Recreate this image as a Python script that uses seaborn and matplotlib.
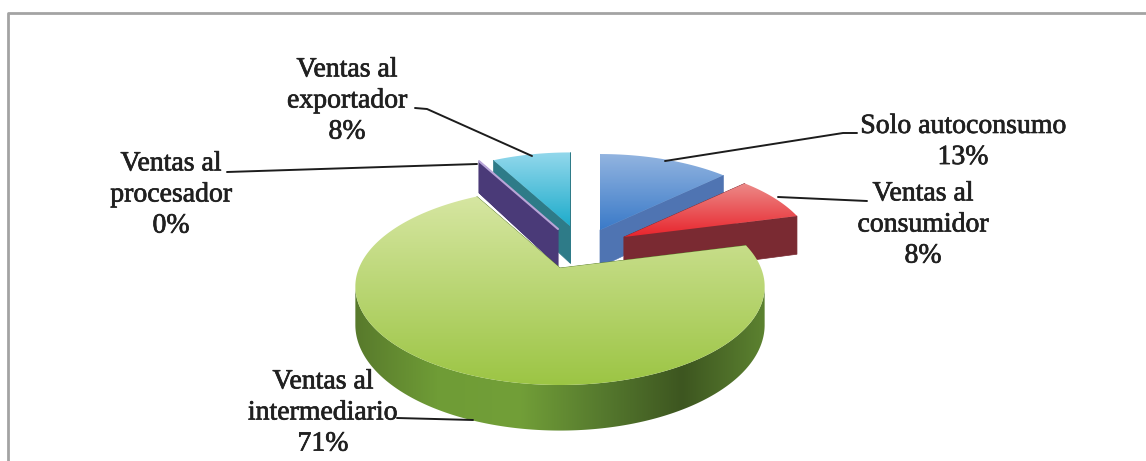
import numpy as np
import matplotlib
matplotlib.use("Agg")
import matplotlib.pyplot as plt
import matplotlib.patheffects as pe
from matplotlib.colors import to_rgb
from matplotlib.patches import Polygon
import seaborn as sns

# Shares of producers by sales channel (percent), clockwise from twelve o'clock
channels = ["Solo autoconsumo", "Ventas al\nconsumidor", "Ventas al\nintermediario",
            "Ventas al\nprocesador", "Ventas al\nexportador"]
shares = [13, 8, 71, 0, 8]

# Face gradients (far edge -> near edge) and wall colours (left -> right)
top_colors = [["#92b4e0", "#3a7ac8"], ["#ec8a88", "#e8242c"], ["#d6e6a2", "#9cc544"],
              ["#b9a6d8", "#b9a6d8"], ["#93d8ec", "#1eaccb"]]
wall_colors = [["#4f74b2", "#4a6ca6"], ["#7a2a32", "#72262e"],
               ["#587a2c", "#6f9c36", "#729f38", "#567a2e", "#3d5620", "#5c8230"],
               ["#4a3a78", "#4a3a78"], ["#2e7b88", "#2e7b88"]]

# Per-slice placement on the canvas: apex position, radius scale and wall height
apex_x = [600, 624, 560, 558, 570]
apex_y = [230, 237, 268, 229, 226]
scale = [0.95, 0.93, 1.0, 0.95, 0.92]
wall_height = [37, 40, 37, 37, 37]
draw_order = [0, 1, 4, 3, 2]

RADIUS, FORESHORTEN, PERSPECTIVE = 201, 95, 0.188

# Leader lines and label anchors
label_xy = [(963, 142), (923, 225), (323, 413), (171, 195), (347, 101)]
leaders = [[(665, 161), (843, 133), (857, 133)],
           [(778, 197), (867, 201)],
           [(397, 418), (473, 420)],
           [(227, 172), (477, 164)],
           [(415, 108), (427, 109), (532, 156)]]

sns.set_theme(style="white")
plt.rcParams["font.family"] = ["Liberation Serif", "DejaVu Serif"]

fig, ax = plt.subplots(figsize=(11.46, 4.61), dpi=100)
ax.set_position([0, 0, 1, 1])
ax.axis("off")

# Chart frame, only the top and left sides are in view
ax.plot([8, 8, 1146], [461, 13, 13], color="#a3a3a3", lw=2, zorder=1)


def project(theta, ax0, ay0, k, height):
    """Project a rim angle (degrees clockwise from north) onto the canvas."""
    t = np.radians(theta)
    x, y = np.sin(t), np.cos(t)
    w = 1 + PERSPECTIVE * y
    return ax0 + k * RADIUS * x / w, ay0 - k * FORESHORTEN * y / w, height / w


def clipped_gradient(points, colors, vertical, zorder):
    """Fill a polygon with a colour ramp running down or across it."""
    pts = np.array(points)
    clip = Polygon(pts, closed=True, fc="none", ec="none", zorder=zorder)
    ax.add_patch(clip)
    ramp = np.array(sns.blend_palette(colors, 256))
    img = ramp[:, None, :] if vertical else ramp[None, :, :]
    extent = (pts[:, 0].min(), pts[:, 0].max(), pts[:, 1].max(), pts[:, 1].min())
    im = ax.imshow(img, aspect="auto", zorder=zorder, extent=extent, interpolation="bilinear")
    im.set_clip_path(clip)


# The rim faces the viewer between these angles, where the ellipse is widest
near_start = 90 + np.degrees(np.arcsin(PERSPECTIVE))
near_end = 360 - near_start

edges = np.cumsum([0] + shares) * 3.6
zorder = 2
for i in draw_order:
    a0, a1 = edges[i], edges[i + 1]
    ax0, ay0, k, h = apex_x[i], apex_y[i], scale[i], wall_height[i]
    thetas = np.linspace(a0, a1, max(2, int(a1 - a0) * 2))
    xs, ys, ds = project(thetas, ax0, ay0, k, h)

    # Radial walls
    base = to_rgb(wall_colors[i][0])
    for j in (0, -1):
        quad = [(ax0, ay0), (xs[j], ys[j]), (xs[j], ys[j] + ds[j]), (ax0, ay0 + h)]
        ax.add_patch(Polygon(quad, closed=True, fc=base, ec=base, lw=0.5, zorder=zorder))

    # Outer wall, only where it faces the viewer
    near = (thetas >= near_start) & (thetas <= near_end)
    if near.sum() > 2:
        upper = list(zip(xs[near], ys[near]))
        lower = list(zip(xs[near], ys[near] + ds[near]))
        clipped_gradient(upper + lower[::-1], wall_colors[i], False, zorder)
    zorder += 1

    # Top face with a far-to-near gradient
    if a1 > a0:
        clipped_gradient([(ax0, ay0)] + list(zip(xs, ys)), top_colors[i], True, zorder)
    else:
        ax.plot([ax0, xs[0]], [ay0, ys[0]], color=top_colors[i][0], lw=1.5, zorder=zorder)
    zorder += 1

ax.set_xlim(0, 1146)
ax.set_ylim(461, 0)

# Leader lines
for pts in leaders:
    px, py = zip(*pts)
    ax.plot(px, py, color="#1c1c1c", lw=1.4, zorder=zorder)

# Value labels
for name, share, (lx, ly) in zip(channels, shares, label_xy):
    ax.text(lx, ly, f"{name}\n{share}%", ha="center", va="center", fontsize=20,
            color="#202020", linespacing=1.32, zorder=zorder + 1,
            path_effects=[pe.withStroke(linewidth=0.5, foreground="#202020")])

fig.savefig("out.png", dpi=100, facecolor="white")
